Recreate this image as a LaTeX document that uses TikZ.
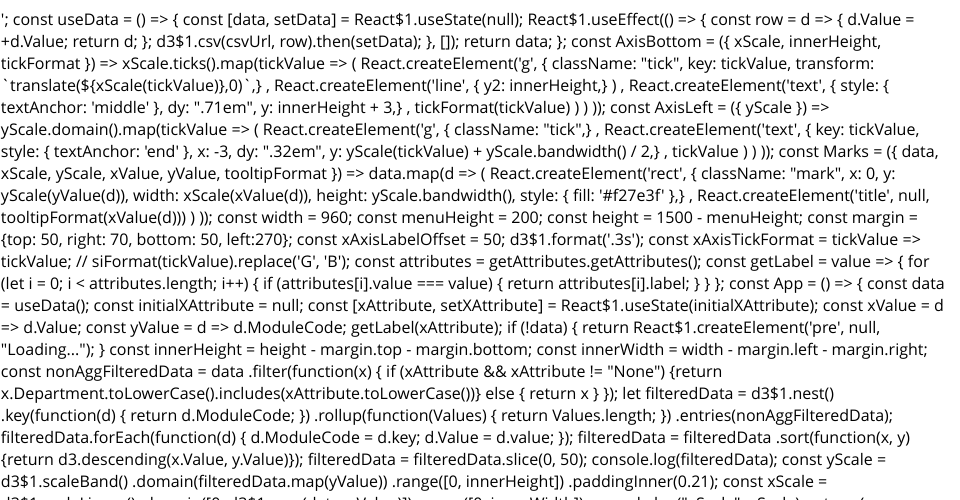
\documentclass[tikz,border=0pt]{standalone}
\usepackage{fontspec}
\newfontfamily\codefont{Open Sans}
\frenchspacing
\tikzset{codeline/.style={anchor=base west,inner sep=0pt,outer sep=0pt,font=\codefont\fontsize{16pt}{22pt}\selectfont,text=black}}
\begin{document}
\begin{tikzpicture}[x=1pt,y=-1pt]
\useasboundingbox (0,0) rectangle (960,500);
\clip (0,0) rectangle (960,500);
\fill[white] (0,0) rectangle (960,500);
\def\lh{22.0}
\def\tp{25.6}
\node[codeline] (l1) at (1,\tp+0*\lh) {'; const useData = () => \{ const [data, setData] = React\$1.useState(null); React\$1.useEffect(() => \{ const row = d => \{ d.Value =};
\node[codeline] (l2) at (1,\tp+1*\lh) {+d.Value; return d; \}; d3\$1.csv(csvUrl, row).then(setData); \}, []); return data; \}; const AxisBottom = (\{ xScale, innerHeight,};
\node[codeline] (l3) at (1,\tp+2*\lh) {tickFormat \}) => xScale.ticks().map(tickValue => ( React.createElement('g', \{ className: "tick", key: tickValue, transform:};
\node[codeline] (l4) at (1,\tp+3*\lh) {`translate(\$\{xScale(tickValue)\},0)`,\} , React.createElement('line', \{ y2: innerHeight,\} ) , React.createElement('text', \{ style: \{};
\node[codeline] (l5) at (1,\tp+4*\lh) {textAnchor: 'middle' \}, dy: ".71em", y: innerHeight + 3,\} , tickFormat(tickValue) ) ) )); const AxisLeft = (\{ yScale \}) =>};
\node[codeline] (l6) at (1,\tp+5*\lh) {yScale.domain().map(tickValue => ( React.createElement('g', \{ className: "tick",\} , React.createElement('text', \{ key: tickValue,};
\node[codeline] (l7) at (1,\tp+6*\lh) {style: \{ textAnchor: 'end' \}, x: -3, dy: ".32em", y: yScale(tickValue) + yScale.bandwidth() / 2,\} , tickValue ) ) )); const Marks = (\{ data,};
\node[codeline] (l8) at (1,\tp+7*\lh) {xScale, yScale, xValue, yValue, tooltipFormat \}) => data.map(d => ( React.createElement('rect', \{ className: "mark", x: 0, y:};
\node[codeline] (l9) at (1,\tp+8*\lh) {yScale(yValue(d)), width: xScale(xValue(d)), height: yScale.bandwidth(), style: \{ fill: '\#f27e3f' \},\} , React.createElement('title', null,};
\node[codeline] (l10) at (1,\tp+9*\lh) {tooltipFormat(xValue(d))) ) )); const width = 960; const menuHeight = 200; const height = 1500 - menuHeight; const margin =};
\node[codeline] (l11) at (1,\tp+10*\lh) {\{top: 50, right: 70, bottom: 50, left:270\}; const xAxisLabelOffset = 50; d3\$1.format('.3s'); const xAxisTickFormat = tickValue =>};
\node[codeline] (l12) at (1,\tp+11*\lh) {tickValue; // siFormat(tickValue).replace('G', 'B'); const attributes = getAttributes.getAttributes(); const getLabel = value => \{ for};
\node[codeline] (l13) at (1,\tp+12*\lh) {(let i = 0; i < attributes.length; i++) \{ if (attributes[i].value === value) \{ return attributes[i].label; \} \} \}; const App = () => \{ const data};
\node[codeline] (l14) at (1,\tp+13*\lh) {= useData(); const initialXAttribute = null; const [xAttribute, setXAttribute] = React\$1.useState(initialXAttribute); const xValue = d};
\node[codeline] (l15) at (1,\tp+14*\lh) {=> d.Value; const yValue = d => d.ModuleCode; getLabel(xAttribute); if (!data) \{ return React\$1.createElement('pre', null,};
\node[codeline] (l16) at (1,\tp+15*\lh) {"Loading..."); \} const innerHeight = height - margin.top - margin.bottom; const innerWidth = width - margin.left - margin.right;};
\node[codeline] (l17) at (1,\tp+16*\lh) {const nonAggFilteredData = data .filter(function(x) \{ if (xAttribute \&\& xAttribute != "None") \{return};
\node[codeline] (l18) at (1,\tp+17*\lh) {x.Department.toLowerCase().includes(xAttribute.toLowerCase())\} else \{ return x \} \}); let filteredData = d3\$1.nest()};
\node[codeline] (l19) at (1,\tp+18*\lh) {.key(function(d) \{ return d.ModuleCode; \}) .rollup(function(Values) \{ return Values.length; \}) .entries(nonAggFilteredData);};
\node[codeline] (l20) at (1,\tp+19*\lh) {filteredData.forEach(function(d) \{ d.ModuleCode = d.key; d.Value = d.value; \}); filteredData = filteredData .sort(function(x, y)};
\node[codeline] (l21) at (1,\tp+20*\lh) {\{return d3.descending(x.Value, y.Value)\}); filteredData = filteredData.slice(0, 50); console.log(filteredData); const yScale =};
\node[codeline] (l22) at (1,\tp+21*\lh) {d3\$1.scaleBand() .domain(filteredData.map(yValue)) .range([0, innerHeight]) .paddingInner(0.21); const xScale =};
\node[codeline] (l23) at (1,\tp+22*\lh) {d3\$1.scaleLinear() .domain([0, d3\$1.max(data, xValue)]) .range([0, innerWidth]); console.log("xScale", xScale); return (};
\end{tikzpicture}
\end{document}
